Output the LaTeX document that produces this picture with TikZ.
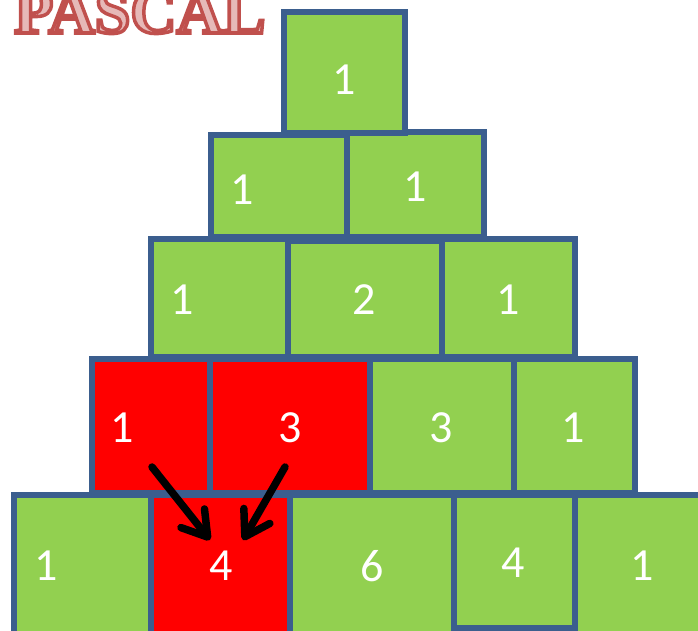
\documentclass[tikz,border=0pt]{standalone}
\usepackage{fontspec}
\usepackage{tikz}
\usetikzlibrary{arrows.meta}
\usepackage{xcolor}
\setmainfont{Liberation Serif}
\newfontfamily\numfont{Carlito}
\definecolor{cellgreen}{HTML}{92D050}
\definecolor{cellred}{HTML}{FF0000}
\definecolor{cellline}{HTML}{3B5E8E}
\definecolor{titlefill}{HTML}{E6B9B8}
\definecolor{titleline}{HTML}{C0504D}

\begin{document}
\begin{tikzpicture}[x=1pt,y=-1pt,>={Straight Barb[length=24pt,width=30pt,round]},
  cell/.style={draw=cellline,line width=5.5pt,fill=cellgreen,inner sep=0pt,outer sep=0pt},
  hot/.style={cell,fill=cellred},
  num/.style={text=white,font=\numfont\fontsize{46}{46}\selectfont,inner sep=0pt}]
\useasboundingbox (0,0) rectangle (698,630);

% title, cut off at the top edge
\node (title) [anchor=base west,inner sep=0pt,text=titlefill,font=\bfseries\fontsize{64}{64}\selectfont]
  at (14,33) {\special{pdf:literal q 2 Tr 3.5 w 0.753 0.314 0.302 RG}PASCAL\special{pdf:literal Q}};

% row 4
\node (r4a) [cell,minimum width=137pt,minimum height=145pt] at (82.5,567.5) {};
\node (r4b) [hot,minimum width=139pt,minimum height=145pt] at (220.5,567.5) {};
\node (r4c) [cell,minimum width=164pt,minimum height=145pt] at (372,567.5) {};
\node (r4e) [cell,minimum width=130pt,minimum height=145pt] at (640,567.5) {};
\node (r4d) [cell,minimum width=121pt,minimum height=133pt] at (514.5,561.5) {};
% row 3
\node (r3a) [hot,minimum width=118pt,minimum height=134pt] at (151,426) {};
\node (r3b) [hot,minimum width=160pt,minimum height=134pt] at (290,426) {};
\node (r3c) [cell,minimum width=144pt,minimum height=134pt] at (442,426) {};
\node (r3d) [cell,minimum width=121pt,minimum height=134pt] at (574.5,426) {};
% row 2
\node (r2a) [cell,minimum width=137pt,minimum height=118pt] at (219.5,298) {};
\node (r2c) [cell,minimum width=133pt,minimum height=118pt] at (508.5,298) {};
\node (r2b) [cell,minimum width=154pt,minimum height=116pt] at (365,299) {};
% row 1
\node (r1a) [cell,minimum width=136pt,minimum height=102pt] at (279,186) {};
\node (r1b) [cell,minimum width=137pt,minimum height=105pt] at (415.5,184.5) {};
% row 0
\node (r0) [cell,minimum width=121pt,minimum height=121pt] at (344.5,72.5) {};

% numbers
\node (n0) [num] at (344,80) {1};
\node (n1a) [num] at (242,190) {1};
\node (n1b) [num] at (415,187) {1};
\node (n2a) [num] at (182,300) {1};
\node (n2b) [num] at (364,300) {2};
\node (n2c) [num] at (508,300) {1};
\node (n3a) [num] at (122,428) {1};
\node (n3b) [num] at (290,428) {3};
\node (n3c) [num] at (441,428) {3};
\node (n3d) [num] at (573,428) {1};
\node (n4a) [num] at (46,566) {1};
\node (n4b) [num] at (221,566) {4};
\node (n4c) [num] at (372,566) {6};
\node (n4d) [num] at (513,563) {4};
\node (n4e) [num] at (642,566) {1};

% the two arrows into the 4
\coordinate (fromleft) at (152,467);
\coordinate (fromright) at (285,467);
\coordinate (toleft) at (210,540);
\coordinate (toright) at (243,540);
\draw[->,line width=7.5pt,line cap=round] (fromleft) -- (toleft);
\draw[->,line width=7.5pt,line cap=round] (fromright) -- (toright);
\end{tikzpicture}
\end{document}
